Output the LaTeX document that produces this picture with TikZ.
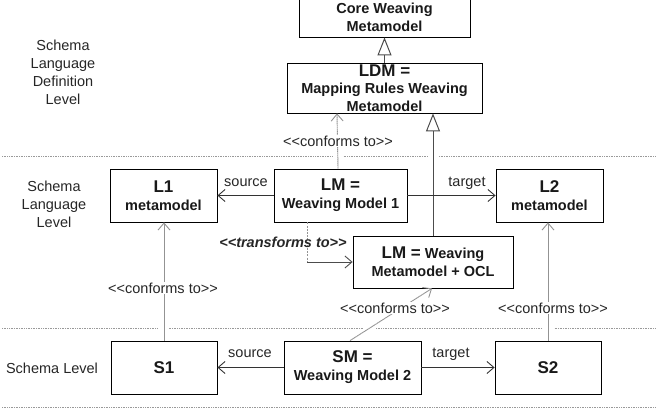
\documentclass[tikz,border=0pt]{standalone}
\usepackage{fontspec}
\setmainfont{Liberation Sans}
\usetikzlibrary{arrows.meta}
\newcommand\lgl{<\kern0pt<}
\newcommand\rgr{>\kern0pt>}
\begin{document}
\begin{tikzpicture}[x=1pt,y=-1pt,
  box/.style={draw, line width=0.8pt, inner sep=0pt, align=center, text=black!90,
    font=\bfseries\fontsize{14.5}{18}\selectfont},
  lvl/.style={align=center, inner sep=0pt, text=black!85, font=\fontsize{14.5}{18}\selectfont},
  lbl/.style={inner sep=1pt, text=black!85, font=\fontsize{14.5}{18}\selectfont},
  sep/.style={draw=gray!80, line width=0.7pt, densely dotted},
  inh/.style={draw=black!70, line width=1pt, -{Triangle[open, length=18pt, width=14pt]}},
  conf/.style={draw=gray!85, line width=0.9pt, dash pattern=on 1.6pt off 0.4pt, -{Straight Barb[length=7pt, width=12pt]}},
  assoc/.style={draw=black!80, line width=0.9pt, -{Straight Barb[length=7pt, width=12pt]}},
  trv/.style={draw=gray!85, line width=0.9pt, dash pattern=on 2pt off 1.2pt},
  trh/.style={draw=black!70, line width=0.9pt, -{Straight Barb[length=7pt, width=12pt]}}
]
\useasboundingbox (0,0) rectangle (657,408);

% level separators
\draw[sep] (2,156) -- (655,156);
\draw[sep] (2,328) -- (655,328);
\draw[sep] (2,407) -- (655,407);
% gaps where connectors cross separators
\fill[white] (333,153) rectangle (343,159);
\fill[white] (428,153) rectangle (438,159);
\fill[white] (158,325) rectangle (169,331);
\fill[white] (364,325) rectangle (376,331);
\fill[white] (543,325) rectangle (554,331);

% level labels
\node[lvl] (lv1) at (63,72) {Schema\\Language\\Definition\\Level};
\node[lvl] (lv2) at (54,204) {Schema\\Language\\Level};
\node[lvl] (lv3) at (52,368) {Schema Level};

% boxes
\node[box, minimum width=171pt, minimum height=40pt] (core) at (384.5,17) {Core Weaving\\Metamodel};
\node[box, minimum width=195pt, minimum height=50pt] (ldm) at (384.5,88)
  {{\fontsize{17}{17}\selectfont LDM =}\\[-1pt]Mapping Rules Weaving\\Metamodel};
\node[box, minimum width=107pt, minimum height=53pt] (l1) at (163.5,195.5)
  {{\fontsize{17}{18}\selectfont L1}\\metamodel};
\node[box, minimum width=133pt, minimum height=53pt] (lm1) at (340.5,195.5)
  {{\fontsize{17}{18}\selectfont LM =}\\Weaving Model 1};
\node[box, minimum width=107pt, minimum height=53pt] (l2) at (549.5,195.5)
  {{\fontsize{17}{18}\selectfont L2}\\metamodel};
\node[box, minimum width=160pt, minimum height=52pt] (lmwm) at (433,262)
  {{\fontsize{17}{18}\selectfont LM =} Weaving\\Metamodel + OCL};
\node[box, minimum width=106pt, minimum height=53pt] (s1) at (164,367.5)
  {\fontsize{17}{18}\selectfont S1};
\node[box, minimum width=137pt, minimum height=53pt] (sm) at (352.5,367.5)
  {{\fontsize{17}{18}\selectfont SM =}\\Weaving Model 2};
\node[box, minimum width=106pt, minimum height=53pt] (s2) at (548,367.5)
  {\fontsize{17}{18}\selectfont S2};

% inheritance
\draw[inh] (ldm.north) -- (core.south);
\draw[inh] (lmwm.north) -- (lmwm.north |- ldm.south);

% conforms to
\draw[conf] ([xshift=-2.5pt]lm1.north) -- ([xshift=-47.5pt]ldm.south);
\node[lbl, fill=white] (c1) at (338,141) {\lgl conforms to\rgr};
\draw[conf] (s1.north) -- (s1.north |- l1.south);
\node[lbl, fill=white] (c2) at (163,288) {\lgl conforms to\rgr};
\draw[conf] (s2.north) -- (s2.north |- l2.south);
\node[lbl, fill=white] (c3) at (553,308) {\lgl conforms to\rgr};
\draw[conf] ([xshift=-2.5pt]sm.north) -- ([xshift=-1pt]lmwm.south);
\node[lbl, fill=white] (c4) at (395,308) {\lgl conforms to\rgr};

% source / target
\draw[assoc] (lm1.west) -- (l1.east);
\node[lbl] (src1) at (246,183) {source};
\draw[assoc] (lm1.east) -- (l2.west);
\node[lbl] (tgt1) at (467,183) {target};
\draw[assoc] (sm.west) -- (s1.east);
\node[lbl] (src2) at (250,354) {source};
\draw[assoc] (sm.east) -- (s2.west);
\node[lbl] (tgt2) at (451,354) {target};

% transforms to
\coordinate (bend) at ([xshift=-33.5pt]lm1.south |- lmwm.west);
\draw[trv] ([xshift=-33.5pt]lm1.south) -- (bend);
\draw[trh] (bend) -- (lmwm.west);
\node[lbl, font=\bfseries\itshape\fontsize{14.5}{18}\selectfont] (tr) at (283,242) {\lgl transforms to\rgr};
\end{tikzpicture}
\end{document}
